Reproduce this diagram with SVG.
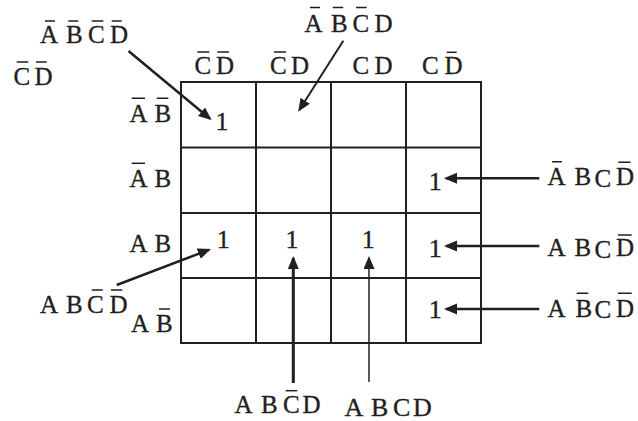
<svg xmlns="http://www.w3.org/2000/svg" width="638" height="421" viewBox="0 0 638 421">
  <style>
    text { font-family: 'Liberation Serif', 'Times New Roman', 'DejaVu Serif', serif; font-size: 25px; fill: #231f20; stroke: #231f20; stroke-width: 0.35; }
    .bar { stroke: #231f20; stroke-width: 1.5; fill: none; }
    .grid { stroke: #231f20; stroke-width: 2; fill: none; }
    .one { text-anchor: middle; font-size: 26px; }
    .arr { stroke: #231f20; fill: none; marker-end: url(#ah); }
  </style>
  <defs>
    <marker id="ah" markerUnits="userSpaceOnUse" markerWidth="14" markerHeight="12" refX="11" refY="5.5" orient="auto">
      <path d="M0,0 L13,5.5 L0,11 Z" fill="#231f20"/>
    </marker>
  </defs>
  <rect width="638" height="421" fill="#ffffff"/>

  <g id="kmap-grid" class="grid">
    <rect x="181" y="82" width="300" height="261"/>
    <path d="M256,82V343 M331,82V343 M406,82V343 M181,147.5H481 M181,213H481 M181,278H481"/>
  </g>

  <g id="corner-label">
    <text x="13.5 34.5" y="85">CD</text>
    <path class="bar" d="M16.7,62H28.3 M36,62H46.7"/>
  </g>

  <g id="col-headers">
    <text x="194.5 216" y="73.5">CD</text>
    <path class="bar" d="M197.3,52H209.3 M217.3,52H229"/>
    <text x="270 291" y="73.5">CD</text>
    <path class="bar" d="M274,52H286"/>
    <text x="352.5 374.5" y="73.5">CD</text>
    <text x="422 444.5" y="73.5">CD</text>
    <path class="bar" d="M446.7,52.3H456.7"/>
  </g>

  <g id="row-headers">
    <text x="129.5 154.5" y="121.7">AB</text>
    <path class="bar" d="M131.7,98.3H145 M156.7,98.3H168.3"/>
    <text x="129.5 154.5" y="187.3">AB</text>
    <path class="bar" d="M131.7,163.3H145"/>
    <text x="129.5 154.5" y="251.7">AB</text>
    <text x="131 156" y="331.7">AB</text>
    <path class="bar" d="M159,309H170"/>
  </g>

  <g id="cell-values">
    <text class="one" x="222" y="130">1</text>
    <text class="one" x="435.3" y="190">1</text>
    <text class="one" x="223.3" y="248.3">1</text>
    <text class="one" x="292" y="248.3">1</text>
    <text class="one" x="368.3" y="248.3">1</text>
    <text class="one" x="435.3" y="256.7">1</text>
    <text class="one" x="435.3" y="318.3">1</text>
  </g>

  <g id="term-nAnBnCnD">
    <text x="40 66 88 110" y="43">ABCD</text>
    <path class="bar" d="M45,21H55 M68.3,21H78.3 M91.7,21H103.3 M111.7,21H121.7"/>
  </g>

  <g id="term-nAnBnCD">
    <text x="304.5 331 352.5 374.5" y="32">ABCD</text>
    <path class="bar" d="M310,7.5H320 M332.7,7.5H343.3 M356,7.5H366.7"/>
  </g>

  <g id="term-nABCnD">
    <text x="547.5 574.5 594.5 616" y="185 185 186.5 185">ABCD</text>
    <path class="bar" d="M552,161.7H562 M618.3,162.2H630.5"/>
  </g>

  <g id="term-ABCnD">
    <text x="547.5 574.5 594.5 616" y="256 256 257.5 256">ABCD</text>
    <path class="bar" d="M618,235H631.7"/>
  </g>

  <g id="term-AnBCnD">
    <text x="547.5 575.5 594.5 616" y="316.7 316.7 318 316.7">ABCD</text>
    <path class="bar" d="M576.7,293.3H588.3 M618,293.3H631.7"/>
  </g>

  <g id="term-ABnCnD">
    <text x="40 66 87 109.5" y="313.3">ABCD</text>
    <path class="bar" d="M91.7,290H102.7 M111,290H122.3"/>
  </g>

  <g id="term-ABnCD">
    <text x="234.5 261 283 302.5" y="413.3">ABCD</text>
    <path class="bar" d="M285.7,390.7H297.3"/>
  </g>

  <g id="term-ABCD">
    <text x="344.5 371 393 413" y="416" style="font-size:26px">ABCD</text>
  </g>

  <g id="connectors">
    <line class="arr" x1="128.5" y1="51" x2="210" y2="118.7" stroke-width="2.5"/>
    <line class="arr" x1="343.3" y1="40.7" x2="299.3" y2="110" stroke-width="2"/>
    <line class="arr" x1="539.3" y1="178.3" x2="446" y2="178.3" stroke-width="2.5"/>
    <line class="arr" x1="539.3" y1="246" x2="446" y2="246" stroke-width="2.5"/>
    <line class="arr" x1="539.3" y1="309" x2="446" y2="309" stroke-width="2.5"/>
    <line class="arr" x1="116.7" y1="285" x2="209" y2="249.8" stroke-width="2.5"/>
    <line class="arr" x1="293.3" y1="383" x2="293.3" y2="258" stroke-width="3"/>
    <line class="arr" x1="369" y1="382" x2="369" y2="258" stroke-width="1.5"/>
  </g>
</svg>
